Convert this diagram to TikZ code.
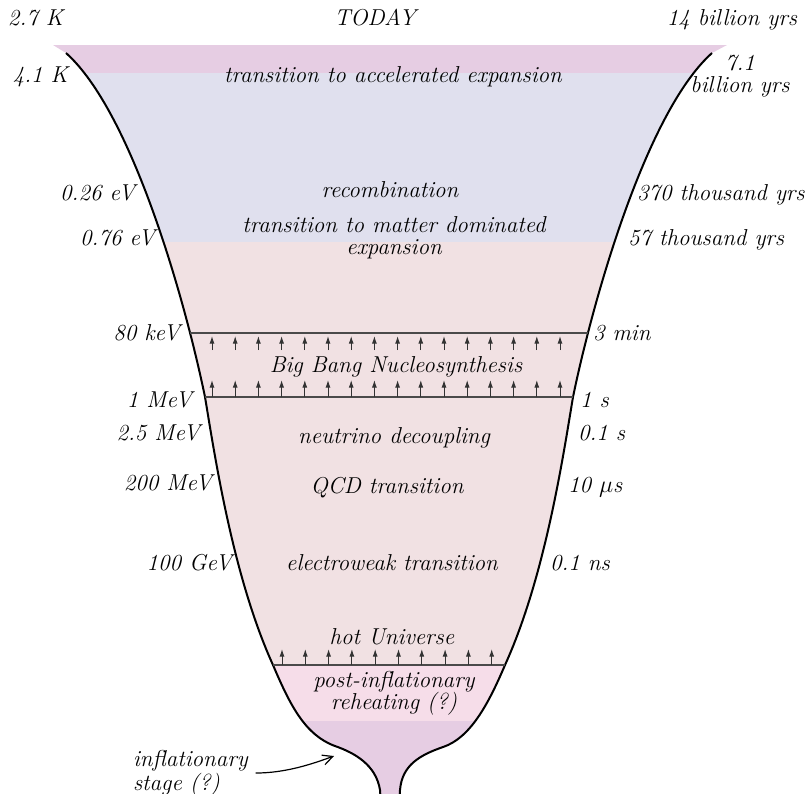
\documentclass[tikz,border=0pt]{standalone}
\usepackage{fontspec}
\usetikzlibrary{arrows.meta}
\definecolor{bandtop}{HTML}{E6CDE3}
\definecolor{bandlav}{HTML}{E0E0EE}
\definecolor{bandpink}{HTML}{F1E1E3}
\definecolor{bandpost}{HTML}{F6DDE9}
\definecolor{bandinf}{HTML}{E6CDE3}
\definecolor{lnclr}{HTML}{4A4A4A}
\definecolor{arrclr}{HTML}{333333}
\tikzset{
  lab/.style={font=\fontsize{11.5}{11.5}\selectfont\itshape, inner sep=0pt, outer sep=0pt},
  labtwo/.style={lab, align=center, font=\fontsize{11.5}{11.2}\selectfont\itshape},
  funnel/.style={line width=1pt, line join=round},
  levline/.style={line width=0.7pt, draw=lnclr},
  uparrow/.style={line width=0.5pt, draw=arrclr, -{Latex[length=3.8pt,width=2.5pt]}},
}
\begin{document}
\begin{tikzpicture}[x=0.5pt,y=-0.5pt]
\useasboundingbox (0,0) rectangle (806,793);

% ---- coloured bands clipped to the funnel
\begin{scope}
\clip (53,45) -- (66,53)
  .. controls (132,112) and (185,300) .. (205,397)
  .. controls (215,457) and (233,577) .. (273,665)
  .. controls (290,705) and (305,735) .. (335,746)
  .. controls (355,753) and (376,765) .. (380,790) -- (381,805)
  -- (399,805) -- (400,790)
  .. controls (402,765) and (420,755) .. (443,747)
  .. controls (470,738) and (488,705) .. (505,665)
  .. controls (545,577) and (563,457) .. (573,397)
  .. controls (593,300) and (646,112) .. (712,53)
  -- (727,45) -- cycle;
\fill[bandtop]  (0,40)  rectangle (806,73);
\fill[bandlav]  (0,73)  rectangle (806,242);
\fill[bandpink] (0,242) rectangle (806,665);
\fill[bandpost] (0,665) rectangle (806,721);
\fill[bandinf]  (0,721) rectangle (806,810);
\end{scope}

% ---- funnel outline
\draw[funnel] (66,53)
  .. controls (132,112) and (185,300) .. (205,397)
  .. controls (215,457) and (233,577) .. (273,665)
  .. controls (290,705) and (305,735) .. (335,746)
  .. controls (355,753) and (376,765) .. (380,790) -- (381,805);
\draw[funnel] (712,53)
  .. controls (646,112) and (593,300) .. (573,397)
  .. controls (563,457) and (545,577) .. (505,665)
  .. controls (488,705) and (470,738) .. (443,747)
  .. controls (420,755) and (402,765) .. (400,790) -- (399,805);

% ---- level lines
\coordinate (kevL) at (190,333);
\coordinate (kevR) at (588,333);
\coordinate (mevL) at (205,397);
\coordinate (mevR) at (573,397);
\coordinate (hotL) at (273,665);
\coordinate (hotR) at (505,665);
\draw[levline] (kevL) -- (kevR);
\draw[levline] (mevL) -- (mevR);
\draw[levline] (hotL) -- (hotR);

% ---- arrows
\foreach \i in {0,...,15}{
  \draw[uparrow] (212+23.2*\i,350) -- (212+23.2*\i,336);
  \draw[uparrow] (212+23.2*\i,397) -- (212+23.2*\i,380);
}
\foreach \i in {0,...,9}{
  \draw[uparrow] (282+23.3*\i,665) -- (282+23.3*\i,649);
}

% ---- top row
\node[lab, anchor=base west] (t27) at (8,25) {2.7 K};
\node[lab, anchor=base] (today) at (375,25) {TODAY};
\node[lab, anchor=base east] (t14) at (797,25) {14 billion yrs};

% ---- left labels
\node[lab, anchor=base east] (l41) at (68,82) {4.1 K};
\node[lab, anchor=base east] (l026) at (135,200) {0.26 eV};
\node[lab, anchor=base east] (l076) at (155,245) {0.76 eV};
\node[lab, anchor=base east] (l80) at (180,340) {80 keV};
\node[lab, anchor=base east] (l1) at (192,407) {1 MeV};
\node[lab, anchor=base east] (l25) at (200,440) {2.5 MeV};
\node[lab, anchor=base east] (l200) at (212,490) {200 MeV};
\node[lab, anchor=base east] (l100) at (232,570) {100 GeV};

% ---- right labels
\node[labtwo] (r71) at (740,76) {7.1\\billion yrs};
\node[lab, anchor=base west] (r370) at (637,200) {370 thousand yrs};
\node[lab, anchor=base west] (r57) at (628,245) {57 thousand yrs};
\node[lab, anchor=base west] (r3) at (593,340) {3 min};
\node[lab, anchor=base west] (r1) at (580,407) {1 s};
\node[lab, anchor=base west] (r01) at (578,440) {0.1 s};
\node[lab, anchor=base west] (r10) at (568,492) {10 $\mu$s};
\node[lab, anchor=base west] (rns) at (550,570) {0.1 ns};

% ---- centre labels
\node[lab, anchor=base] (acc) at (393,82) {transition to accelerated expansion};
\node[lab, anchor=base] (rec) at (390,197) {recombination};
\node[labtwo] (mat) at (394,238) {transition to matter dominated\\expansion};
\node[lab, anchor=base] (bbn) at (396,372) {Big Bang Nucleosynthesis};
\node[lab, anchor=base] (neu) at (394,443) {neutrino decoupling};
\node[lab, anchor=base] (qcd) at (387,493) {QCD transition};
\node[lab, anchor=base] (ew) at (392,570) {electroweak transition};
\node[lab, anchor=base] (hot) at (392,644) {hot Universe};
\node[labtwo] (post) at (394,693) {post-inflationary\\reheating (?)};
\node[lab, anchor=west, align=left, font=\fontsize{11.5}{10}\selectfont\itshape] (infl) at (133,773) {inflationary\\stage (?)};

\coordinate (infltip) at (334,756);
\draw[line width=0.6pt, -{Straight Barb[length=5pt,width=5pt]}] ([xshift=4pt]infl.east) .. controls +(30,0) and +(-22,8) .. (infltip);
\end{tikzpicture}
\end{document}
